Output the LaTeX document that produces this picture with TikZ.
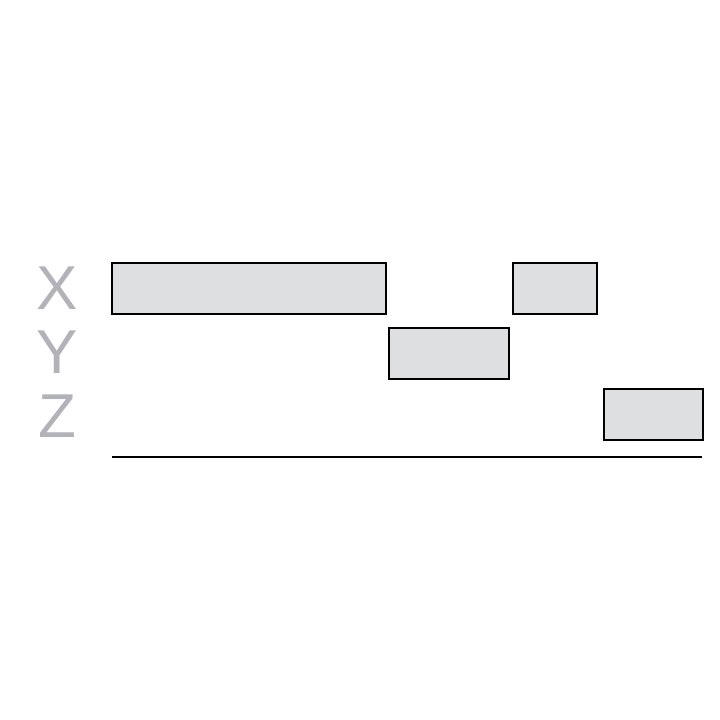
\documentclass[tikz,border=0pt]{standalone}
\usepackage{fontspec}
\setmainfont{Liberation Sans}
\usepackage{xcolor}
\usepackage{tikz}
\usetikzlibrary{positioning}
\definecolor{barfill}{RGB}{222,223,225}
\definecolor{labelgray}{RGB}{178,179,184}
\tikzset{
    bar/.style={rectangle, draw, line width=1.5pt, fill=barfill, inner sep=0pt, anchor=north west, minimum height=51pt},
    rowlabel/.style={text=labelgray, font=\fontsize{62}{62}\selectfont, inner sep=0pt},
    axis/.style={line width=1.5pt}
}
\begin{document}
\begin{tikzpicture}[x=1pt, y=-1pt]
    \useasboundingbox (0,0) rectangle (720,720);
    % Row labels
    \node[rowlabel] (lx) at (57,288) {X};
    \node[rowlabel] (ly) at (57,352) {Y};
    \node[rowlabel] (lz) at (57,416) {Z};

    % Bars
    \node[bar, minimum width=274pt] (x1) at (111,262) {};
    \node[bar, minimum width=84pt] (x2) at (512,262) {};
    \node[bar, minimum width=120pt] (y1) at (388,327) {};
    \node[bar, minimum width=99pt] (z1) at (603,388) {};

    % Time axis
    \coordinate (a0) at (112,457);
    \coordinate (a1) at (702,457);
    \draw[axis] (a0) -- (a1);
\end{tikzpicture}
\end{document}
